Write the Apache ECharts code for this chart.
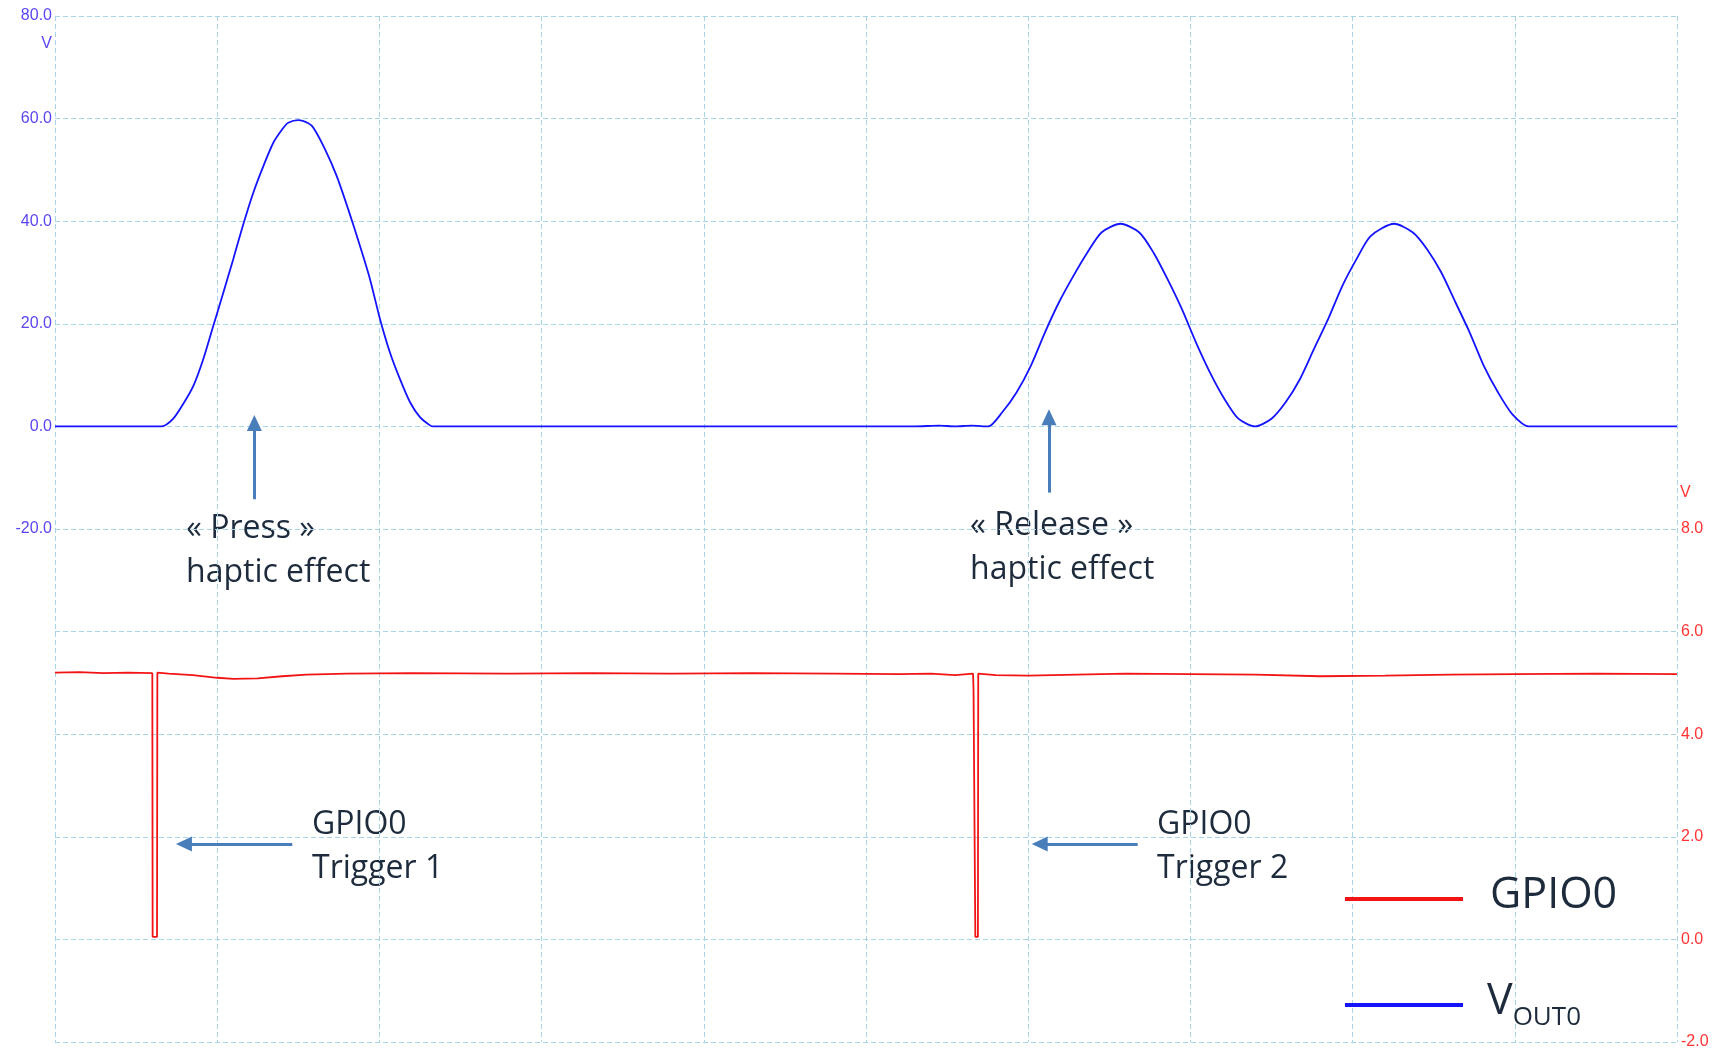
<!DOCTYPE html>
<html>
<head>
<meta charset="utf-8">
<title>VOUT0 / GPIO0 haptic trace</title>
<script src="https://cdn.jsdelivr.net/npm/echarts@6/dist/echarts.min.js"></script>
<style>
  html, body { margin: 0; padding: 0; background: #fff; }
  #chart { width: 1732px; height: 1049px; }
</style>
</head>
<body>
<div id="chart"></div>
<script>
// time in screen divisions (10 across the scope screen)
var voutTime = [0, 0.30, 0.658, 0.729, 0.791, 0.853, 0.914, 0.976, 1.038, 1.099, 1.161, 1.223, 1.284, 1.346, 1.408, 1.438, 1.500,
  1.562, 1.593, 1.665, 1.737, 1.808, 1.880, 1.942, 2.004, 2.065, 2.127, 2.189, 2.250, 2.312, 2.332, 3.5, 4.5, 5.3, 5.45, 5.55, 5.65,
  5.754, 5.841, 5.928, 6.016, 6.103, 6.190, 6.278, 6.365, 6.452, 6.569, 6.685, 6.772, 6.859, 6.947, 7.034, 7.121, 7.209, 7.296,
  7.398, 7.500, 7.587, 7.675, 7.762, 7.849, 7.937, 8.024, 8.111, 8.256, 8.372, 8.460, 8.547, 8.634, 8.722, 8.809, 8.897, 8.984,
  9.086, 10];
var voutVolts = [0, 0, 0, 1.5, 4.4, 7.9, 13.1, 19.6, 26.1, 32.6, 39.4, 45.6, 50.7, 55.3, 58.2, 59.2, 59.7,
  59.1, 58.2, 54.0, 48.8, 42.3, 35.2, 28.7, 20.9, 14.4, 9.2, 4.7, 1.8, 0.2, 0, 0, 0, 0, 0.15, 0, 0.15,
  0, 2.8, 6.6, 11.8, 18.3, 24.2, 29.3, 33.9, 37.8, 39.5, 37.8, 33.9, 28.7, 22.9, 16.4, 10.5, 5.4, 1.5,
  0, 1.5, 4.7, 9.2, 15.1, 20.9, 27.4, 32.6, 37.1, 39.5, 37.8, 34.5, 30.0, 24.2, 18.3, 11.8, 6.6, 2.4,
  0, 0];

var gpioTime = [0, 0.15, 0.30, 0.45, 0.600, 0.602, 0.629, 0.631, 0.70, 0.85, 1.0, 1.1, 1.25, 1.4, 1.55, 1.8, 2.2, 2.8,
  3.3, 3.8, 4.3, 4.8, 5.2, 5.4, 5.55, 5.660, 5.663, 5.672, 5.674, 5.690, 5.692, 5.8, 6.0, 6.3, 6.6, 7.0, 7.4, 7.8,
  8.2, 8.6, 9.0, 9.5, 10];
var gpioVolts = [5.20, 5.21, 5.19, 5.20, 5.19, 0.05, 0.05, 5.20, 5.18, 5.15, 5.10, 5.08, 5.09, 5.13, 5.16, 5.18, 5.19, 5.18,
  5.19, 5.18, 5.19, 5.18, 5.17, 5.18, 5.15, 5.18, 4.85, 4.85, 0.05, 0.05, 5.18, 5.15, 5.14, 5.16, 5.18, 5.17, 5.16, 5.13,
  5.14, 5.16, 5.17, 5.18, 5.17];

var leftTickLabels = [-20, 0, 20, 40, 60, 80];
var rightTickLabels = [-2, 0, 2, 4, 6, 8];

// annotation arrows [from, to] in data units
var pressArrow = [[1.229, -14.2], [1.229, 0.66]];
var releaseArrow = [[6.128, -12.9], [6.128, 1.77]];
var trigger1Arrow = [[1.463, 1.86], [0.795, 1.86]];
var trigger2Arrow = [[6.675, 1.86], [6.071, 1.86]];

function pairs(xs, ys) {
  return xs.map(function (x, i) { return [x, ys[i]]; });
}

var gridColor = '#a8d5e5';
var textColor = '#1d2b3c';
var arrowColor = '#4a7ebb';
var noteFont = '32px "Open Sans"';

function arrowMark(list) {
  return {
    silent: true,
    animation: false,
    symbol: ['none', 'triangle'],
    symbolSize: [15, 16],
    label: { show: false },
    emphasis: { disabled: true },
    lineStyle: { color: arrowColor, width: 3, type: 'solid' },
    data: list.map(function (a) { return [{ coord: a[0] }, { coord: a[1] }]; })
  };
}

var chart = echarts.init(document.getElementById('chart'));
chart.setOption({
  animation: false,
  backgroundColor: '#fff',
  grid: { left: 55, right: 55, top: 16, bottom: 7, containLabel: false, outerBoundsMode: 'none' },
  legend: {
    orient: 'vertical',
    left: 1345,
    top: 872,
    padding: 0,
    itemGap: 52,
    itemWidth: 118,
    itemHeight: 4,
    icon: 'rect',
    selectedMode: false,
    data: ['GPIO0', 'VOUT0'],
    formatter: function (name) {
      return name === 'GPIO0' ? '{g|GPIO0}' : '{v|V}{s|OUT0}';
    },
    textStyle: {
      color: textColor,
      fontFamily: 'Open Sans',
      rich: {
        g: { fontSize: 43, fontFamily: 'Open Sans', color: textColor, lineHeight: 59, padding: [2, 0, 9, 22] },
        v: { fontSize: 43, fontFamily: 'Open Sans', color: textColor, lineHeight: 59, padding: [2, 0, 9, 19] },
        s: { fontSize: 26, fontFamily: 'Open Sans', color: textColor, lineHeight: 45, padding: [25, 0, 0, 0] }
      }
    }
  },
  xAxis: {
    type: 'value',
    min: 0,
    max: 10,
    interval: 1,
    axisLine: { show: false },
    axisTick: { show: false },
    axisLabel: { show: false },
    splitLine: { show: true, lineStyle: { color: gridColor, type: [5, 3], width: 1 } }
  },
  yAxis: [{
    type: 'value',
    position: 'left',
    min: -120,
    max: 80,
    interval: 20,
    axisLine: { show: false },
    axisTick: { show: false },
    axisLabel: {
      margin: 3,
      color: '#5a46f2',
      fontFamily: 'Liberation Sans',
      fontSize: 16,
      formatter: function (v) { return leftTickLabels.indexOf(v) >= 0 ? v.toFixed(1) : ''; }
    },
    splitLine: { show: true, lineStyle: { color: gridColor, type: [5, 3], width: 1 } },
    name: 'V',
    nameLocation: 'end',
    nameGap: -28,
    nameTextStyle: { color: '#5a46f2', fontFamily: 'Liberation Sans', fontSize: 16, align: 'right', verticalAlign: 'middle', padding: [0, 3, 0, 0] }
  }, {
    type: 'value',
    position: 'right',
    min: -2,
    max: 18,
    interval: 2,
    axisLine: { show: false },
    axisTick: { show: false },
    axisLabel: {
      margin: 4,
      color: '#ff3333',
      fontFamily: 'Liberation Sans',
      fontSize: 16,
      formatter: function (v) { return rightTickLabels.indexOf(v) >= 0 ? v.toFixed(1) : ''; }
    },
    splitLine: { show: false },
    name: 'V',
    nameLocation: 'end',
    nameGap: -477,
    nameTextStyle: { color: '#ff3333', fontFamily: 'Liberation Sans', fontSize: 16, align: 'left', verticalAlign: 'middle', padding: [0, 0, 0, 3] }
  }],
  series: [{
    name: 'VOUT0',
    type: 'line',
    yAxisIndex: 0,
    data: pairs(voutTime, voutVolts),
    showSymbol: false,
    smooth: 0.25,
    color: '#1414ff',
    lineStyle: { color: '#1414ff', width: 1.8 },
    markLine: arrowMark([pressArrow, releaseArrow]),
    z: 3
  }, {
    name: 'GPIO0',
    type: 'line',
    yAxisIndex: 1,
    data: pairs(gpioTime, gpioVolts),
    showSymbol: false,
    color: '#f21414',
    lineStyle: { color: '#f21414', width: 1.8 },
    markLine: arrowMark([trigger1Arrow, trigger2Arrow]),
    z: 3
  }],
  graphic: [
    { type: 'text', x: 186, y: 507, style: { text: '« Press »\nhaptic effect', font: noteFont, fill: textColor, lineHeight: 44, verticalAlign: 'top' } },
    { type: 'text', x: 970, y: 504, style: { text: '« Release »\nhaptic effect', font: noteFont, fill: textColor, lineHeight: 44, verticalAlign: 'top' } },
    { type: 'text', x: 312, y: 803, style: { text: 'GPIO0\nTrigger 1', font: noteFont, fill: textColor, lineHeight: 44, verticalAlign: 'top' } },
    { type: 'text', x: 1157, y: 803, style: { text: 'GPIO0\nTrigger 2', font: noteFont, fill: textColor, lineHeight: 44, verticalAlign: 'top' } }
  ]
});
</script>
</body>
</html>
